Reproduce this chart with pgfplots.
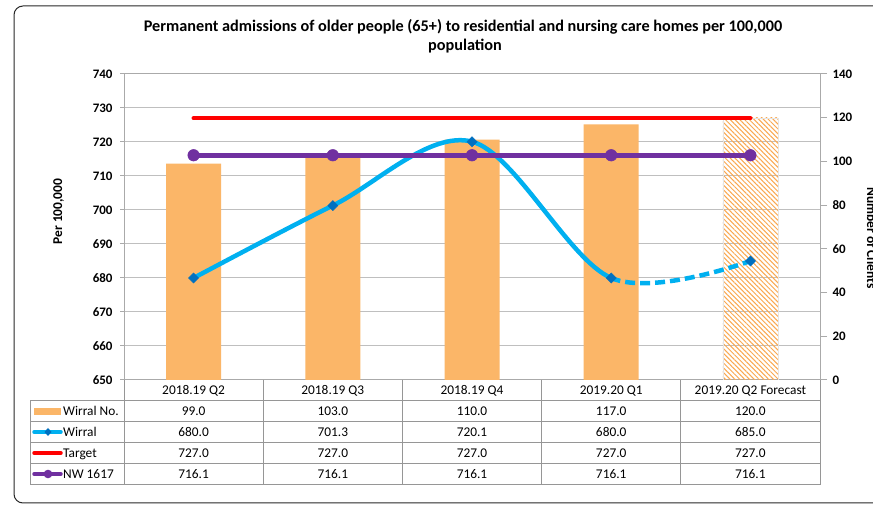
\documentclass[border=0pt]{standalone}
\usepackage{fontspec}
\setmainfont{Carlito}
\usepackage{pgfplots}
\pgfplotsset{compat=1.18}
\usetikzlibrary{patterns.meta}
\definecolor{barorange}{RGB}{251,182,104}
\definecolor{hatchorange}{RGB}{250,168,80}
\definecolor{wblue}{RGB}{0,176,240}
\definecolor{dblue}{RGB}{0,112,192}
\definecolor{nwpurple}{RGB}{112,48,160}
\definecolor{gridgray}{RGB}{191,191,191}
\definecolor{axgray}{RGB}{170,170,170}
\definecolor{tabgray}{RGB}{150,150,150}
\definecolor{framegray}{RGB}{40,40,40}
\pgfplotsset{
  base/.style={
    at={(124bp,125bp)}, anchor=south west,
    width=696bp, height=306bp, scale only axis,
    xmin=-0.5, xmax=4.5,
    /pgf/number format/assume math mode=true,
    ticklabel style={font=\bfseries\fontsize{13}{13}\selectfont},
  }
}
\begin{document}
\begin{tikzpicture}[x=1bp,y=1bp]
\useasboundingbox (0,0) rectangle (873,505);
\clip (0,0) rectangle (873,505);
\fill[white] (0,0) rectangle (873,505);
\draw[framegray, line width=1bp, rounded corners=9bp] (14,2) rectangle (895,499);

% left axis with grid
\begin{axis}[base, ymin=650, ymax=740, ytick={650,660,...,740},
  xtick=\empty, ymajorgrids, grid style={gridgray, line width=1bp},
  axis line style={axgray, line width=1bp},
  ytick pos=left, tick align=outside, major tick length=4bp,
  tick style={axgray, line width=1bp},
  yticklabel style={anchor=east, xshift=-4bp}]
\end{axis}

% right axis with bars
\begin{axis}[base, ymin=0, ymax=140, ytick={0,20,...,140},
  axis x line=none, axis y line*=right,
  axis line style={axgray, line width=1bp},
  tick align=outside, major tick length=7bp,
  tick style={axgray, line width=1bp},
  yticklabel style={anchor=west, xshift=2bp}]
\addplot[ybar, bar width=55bp, bar shift=0pt, fill=barorange, draw=none]
  coordinates {(0,99.0) (1,103.0) (2,110.0) (3,117.0)};
\addplot[ybar, bar width=55bp, bar shift=0pt, draw=gridgray!40,
  pattern={Lines[angle=-45,distance=3.4bp,line width=1bp]}, pattern color=hatchorange]
  coordinates {(4,120.0)};
\end{axis}

% lines on left scale
\begin{axis}[base, ymin=650, ymax=740, hide axis]
\begin{scope}
\clip (axis cs:-0.5,640) rectangle (axis cs:3,750);
\addplot[wblue, line width=4.5bp, smooth, tension=0.55, no marks]
  coordinates {(0,680.0) (1,701.3) (2,720.1) (3,680.0) (4,685.0)};
\end{scope}
\begin{scope}
\clip (axis cs:3,640) rectangle (axis cs:4.5,750);
\addplot[wblue, line width=4.5bp, smooth, tension=0.55, no marks, dash pattern=on 10bp off 5bp]
  coordinates {(0,680.0) (1,701.3) (2,720.1) (3,680.0) (4,685.0)};
\end{scope}
\addplot[only marks, mark=square*, mark size=3.6bp, mark options={rotate=45, fill=dblue, draw=dblue}]
  coordinates {(0,680.0) (1,701.3) (2,720.1) (3,680.0) (4,685.0)};
\addplot[red, line width=4.2bp, line cap=round, no marks]
  coordinates {(0,727.0) (1,727.0) (2,727.0) (3,727.0) (4,727.0)};
\addplot[nwpurple, line width=4.5bp, mark=*, mark size=5.8bp, mark options={fill=nwpurple, draw=nwpurple, line width=0.5bp}]
  coordinates {(0,716.1) (1,716.1) (2,716.1) (3,716.1) (4,716.1)};
\end{axis}

% title
\node[font=\bfseries\fontsize{16.3}{19}\selectfont, anchor=base] at (463,473)
  {Permanent admissions of older people (65+) to residential and nursing care homes per 100,000};
\node[font=\bfseries\fontsize{16.3}{19}\selectfont, anchor=base] at (465,454) {population};
% axis titles
\node[font=\bfseries\fontsize{13.5}{13.5}\selectfont, rotate=90] at (58.5,293.5) {Per 100,000};
\node[font=\bfseries\fontsize{13.5}{13.5}\selectfont, rotate=-90, anchor=base] at (867,267) {Number of Clients};

% data table
\begin{scope}[tabgray, line width=1bp]
\draw (30,104) -- (820,104);
\draw (30,83) -- (820,83);
\draw (30,62) -- (820,62);
\draw (30,41) -- (820,41);
\draw (30,20) -- (820,20);
\draw (30,104) -- (30,20);
\foreach \x in {124,263.2,402.4,541.6,680.8,820} \draw (\x,125) -- (\x,20);
\end{scope}
\begin{scope}[font=\fontsize{13.4}{16}\selectfont]
\node[anchor=base] at (193.6,110) {2018.19 Q2};
\node[anchor=base] at (332.8,110) {2018.19 Q3};
\node[anchor=base] at (472.0,110) {2018.19 Q4};
\node[anchor=base] at (611.2,110) {2019.20 Q1};
\node[anchor=base] at (750.4,110) {2019.20 Q2 Forecast};
\foreach \x/\a/\b/\c/\d in {193.6/99.0/680.0/727.0/716.1, 332.8/103.0/701.3/727.0/716.1,
  472.0/110.0/720.1/727.0/716.1, 611.2/117.0/680.0/727.0/716.1, 750.4/120.0/685.0/727.0/716.1}{
  \node[anchor=base] at (\x,89) {\a};
  \node[anchor=base] at (\x,68) {\b};
  \node[anchor=base] at (\x,47) {\c};
  \node[anchor=base] at (\x,26) {\d};
}
\node[anchor=base west, inner sep=0pt] at (63,89) {Wirral No.};
\node[anchor=base west, inner sep=0pt] at (63,68) {Wirral};
\node[anchor=base west, inner sep=0pt] at (63,47) {Target};
\node[anchor=base west, inner sep=0pt] at (63,26) {NW 1617};
\end{scope}
% legend keys
\fill[barorange] (34,90) rectangle (61,97);
\draw[wblue, line width=3.5bp, line cap=round] (34,73) -- (61,73);
\fill[dblue] (48,77) -- (51.5,73) -- (48,69) -- (44.5,73) -- cycle;
\draw[red, line width=3.5bp, line cap=round] (34,52) -- (61,52);
\draw[nwpurple, line width=3.5bp, line cap=round] (34,31) -- (61,31);
\fill[nwpurple] (48,31) circle (4.3);
\end{tikzpicture}
\end{document}
